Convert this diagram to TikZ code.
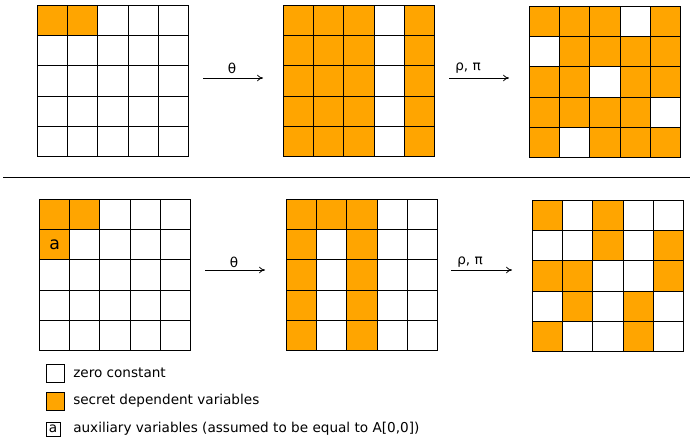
\documentclass[tikz,border=0pt]{standalone}
\usepackage{fontspec}
\setmainfont{DejaVu Sans}
\usetikzlibrary{arrows.meta}
\definecolor{secorange}{HTML}{FFA500}
\newcommand\drawgrid[4]{%
  \foreach \r in {0,...,4}{\foreach \c in {0,...,4}{\node[cell] (#1-\r-\c) at ({#2+30.2*\c},{#3+30.2*\r}) {};}}
  \foreach \r/\c in {#4}{\node[sec] (#1-\r-\c) at ({#2+30.2*\c},{#3+30.2*\r}) {};}
}
\begin{document}
\begin{tikzpicture}[x=0.75pt,y=-0.75pt,
  cell/.style={draw=black,line width=0.75pt,fill=white,minimum size=22.65pt,inner sep=0pt,anchor=north west},
  sec/.style={cell,fill=secorange},
  lbl/.style={font=\fontsize{10.2}{12}\selectfont,inner sep=0pt},
  arr/.style={-{To[length=4.5pt,width=5pt]},line width=0.6pt},
  legbox/.style={draw=black,line width=0.75pt,minimum size=13.5pt,inner sep=0pt},
  legtxt/.style={lbl,anchor=west}]
\useasboundingbox (0,0) rectangle (691,443);
% top row
\drawgrid{A}{37}{5}{0/0,0/1}
\drawgrid{B}{283}{5}{0/0,0/1,0/2,0/4,1/0,1/1,1/2,1/4,2/0,2/1,2/2,2/4,3/0,3/1,3/2,3/4,4/0,4/1,4/2,4/4}
\drawgrid{C}{529}{6}{0/0,0/1,0/2,0/4,1/1,1/2,1/3,1/4,2/0,2/1,2/3,2/4,3/0,3/1,3/2,3/3,4/0,4/2,4/3,4/4}
\coordinate (a1s) at (203,78); \coordinate (a1e) at (263,78);
\draw[arr] (a1s) -- (a1e);
\node[lbl] (a1l) at (232,68) {θ};
\coordinate (a2s) at (449,78); \coordinate (a2e) at (509,78);
\draw[arr] (a2s) -- (a2e);
\node[lbl] (a2l) at (468,68) {ρ, π};
% separator
\coordinate (sepl) at (3,177); \coordinate (sepr) at (690,177);
\draw[line width=0.75pt] (sepl) -- (sepr);
% bottom row
\drawgrid{D}{39}{199}{0/0,0/1,1/0}
\node[inner sep=0pt,font=\fontsize{13}{15}\selectfont] (auxa) at (D-1-0.center) {a};
\drawgrid{E}{286}{199}{0/0,0/1,0/2,1/0,1/2,2/0,2/2,3/0,3/2,4/0,4/2}
\drawgrid{F}{532}{200}{0/0,0/2,1/2,1/4,2/0,2/1,2/4,3/1,3/3,4/0,4/3}
\coordinate (b1s) at (205,270); \coordinate (b1e) at (265,270);
\draw[arr] (b1s) -- (b1e);
\node[lbl] (b1l) at (234,262) {θ};
\coordinate (b2s) at (451,270); \coordinate (b2e) at (512,270);
\draw[arr] (b2s) -- (b2e);
\node[lbl] (b2l) at (470,262) {ρ, π};
% legend
\node[legbox,fill=white] (k1) at (55,373) {};
\node[legtxt] (k1t) at (73,373) {zero constant};
\node[legbox,fill=secorange] (k2) at (55,401) {};
\node[legtxt] (k2t) at (73,401) {secret dependent variables};
\node[draw=black,line width=0.75pt,minimum size=10.5pt,inner sep=0pt,font=\fontsize{10.2}{12}\selectfont] (k3) at (53,429) {a};
\node[legtxt] (k3t) at (73,429) {auxiliary variables (assumed to be equal to A[0,0])};
\end{tikzpicture}
\end{document}
